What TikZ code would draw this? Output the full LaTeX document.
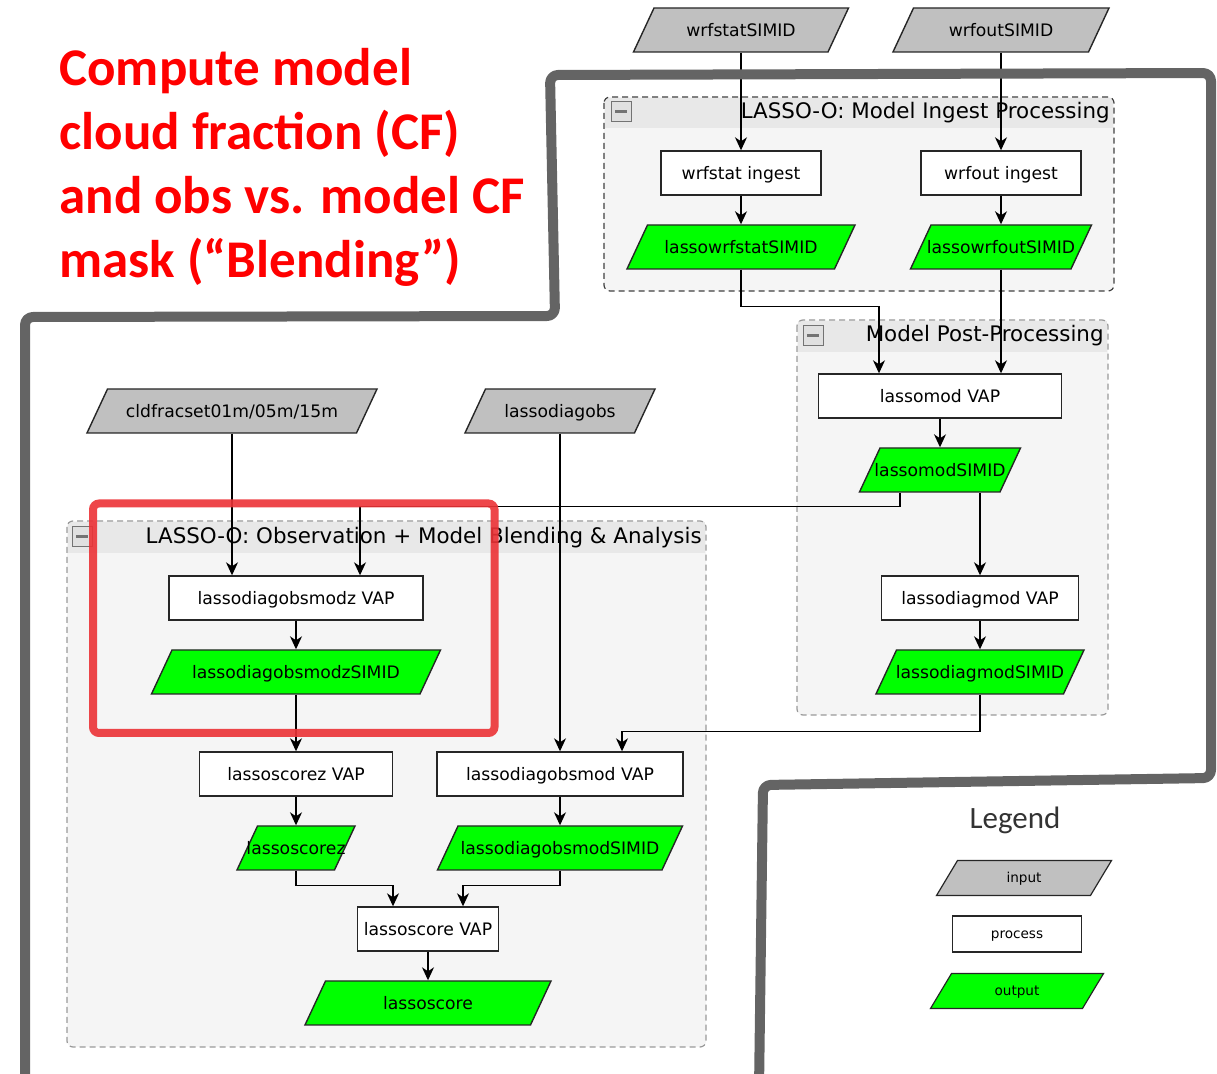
\documentclass[tikz,border=0pt]{standalone}
\usepackage{fontspec}
\setmainfont{DejaVu Sans}
\newfontfamily\calfont{Carlito}
\usetikzlibrary{shapes.geometric,arrows.meta,calc}
\definecolor{framegray}{RGB}{100,100,100}
\definecolor{hilite}{RGB}{236,50,54}
\definecolor{inputgray}{RGB}{192,192,192}
\tikzset{boxtext/.style={font=\fontsize{8.6}{10}\selectfont,text height=7.2pt,text depth=0.9pt}}
\tikzset{proc/.style={boxtext,draw=black!85,line width=0.7pt,fill=white,minimum height=22pt,inner sep=0pt}}
\tikzset{slant/.style={boxtext,trapezium,trapezium left angle=65,trapezium right angle=115,trapezium stretches body,draw=black!85,line width=0.7pt,inner xsep=0pt,inner ysep=6.95pt,execute at begin node={\hbox to 0pt\bgroup\hss},execute at end node={\hss\egroup}}}
\tikzset{inp/.style={slant,fill=inputgray}}
\tikzset{outp/.style={slant,fill=green}}
\tikzset{legtext/.style={font=\fontsize{6.8}{8}\selectfont,text height=5.6pt,text depth=0.8pt,line width=0.6pt}}
\tikzset{legslant/.style={legtext,inner ysep=5.55pt,trapezium left angle=59,trapezium right angle=121}}
\tikzset{flow/.style={line width=0.65pt,-{Stealth[length=6.5pt,width=6pt,inset=2pt]}}}
\tikzset{grptitle/.style={font=\fontsize{10.7}{12}\selectfont,inner sep=0pt,anchor=east}}
\tikzset{tog/.style={draw=black!55,fill=black!12,minimum size=10pt,inner sep=0pt,line width=0.5pt,path picture={\draw[line width=1.5pt] ([xshift=-2.8pt]path picture bounding box.center) -- ([xshift=2.8pt]path picture bounding box.center);}}}

\begin{document}
\begin{tikzpicture}[x=0.5pt,y=-0.5pt,node distance=37pt]
\useasboundingbox (0,0) rectangle (1217,1074);
\clip (0,0) rectangle (1217,1074);

\node[anchor=north west,align=left,inner sep=0pt,text=red,font=\calfont\bfseries\fontsize{26.5}{32}\selectfont] (head) at (59,48) {Compute model\\cloud fraction (CF)\\and obs vs. model CF\\mask (“Blending”)};

\fill[black!4,rounded corners=3pt] (604,97) rectangle (1114,291);
\fill[black!9] (605,98) rectangle (1113,128);
\draw[black!75,line width=0.6pt,dash pattern=on 3pt off 2pt,rounded corners=3pt] (604,97) rectangle (1114,291);
\node[tog] (tog1) at (621,112) {};
\node[grptitle] (grp1) at (1110,113) {LASSO-O: Model Ingest Processing};

\fill[black!4,rounded corners=3pt] (797,320) rectangle (1108,715);
\fill[black!9] (798,321) rectangle (1107,352);
\draw[black!40,line width=0.6pt,dash pattern=on 3pt off 2pt,rounded corners=3pt] (797,320) rectangle (1108,715);
\node[tog] (tog2) at (813,336) {};
\node[grptitle] (grp2) at (1104,336) {Model Post-Processing};

\fill[black!4,rounded corners=3pt] (67,521) rectangle (706,1047);
\fill[black!9] (68,522) rectangle (705,553);
\draw[black!40,line width=0.6pt,dash pattern=on 3pt off 2pt,rounded corners=3pt] (67,521) rectangle (706,1047);
\node[tog] (tog3) at (82,537) {};
\node[grptitle] (grp3) at (702,538) {LASSO-O: Observation + Model Blending \& Analysis};

\node[inp,minimum width=107.5pt] (wstat) at (741,30) {wrfstatSIMID};
\node[inp,minimum width=108pt] (wout) at (1001,30) {wrfoutSIMID};
\node[proc,minimum width=80pt] (wsting) at (741,173) {wrfstat ingest};
\node[proc,minimum width=80pt] (wouting) at (1001,173) {wrfout ingest};
\node[outp,minimum width=114pt] (lwstat) [below of=wsting] {lassowrfstatSIMID};
\node[outp,minimum width=90.5pt] (lwout) [below of=wouting] {lassowrfoutSIMID};
\node[proc,minimum width=121.5pt] (lmodvap) at (940,396) {lassomod VAP};
\node[outp,minimum width=80.5pt] (lmod) [below of=lmodvap] {lassomodSIMID};
\node[proc,minimum width=98.5pt] (ldmodvap) at (980,598) {lassodiagmod VAP};
\node[outp,minimum width=104pt] (ldmod) [below of=ldmodvap] {lassodiagmodSIMID};
\node[inp,minimum width=145pt] (cldfrac) at (232,411) {cldfracset01m/05m/15m};
\node[inp,minimum width=95pt] (ldobs) at (560,411) {lassodiagobs};
\node[proc,minimum width=127pt] (ldozvap) at (296,598) {lassodiagobsmodz VAP};
\node[outp,minimum width=144.5pt] (ldoz) [below of=ldozvap] {lassodiagobsmodzSIMID};
\node[proc,minimum width=96.5pt] (lszvap) at (296,774) {lassoscorez VAP};
\node[outp,minimum width=59pt] (lsz) [below of=lszvap] {lassoscorez};
\node[proc,minimum width=123pt] (ldomvap) at (560,774) {lassodiagobsmod VAP};
\node[outp,minimum width=122.5pt] (ldom) [below of=ldomvap] {lassodiagobsmodSIMID};
\node[proc,minimum width=70.5pt] (lsvap) at (428,929) {lassoscore VAP};
\node[outp,minimum width=123pt] (ls) [below of=lsvap] {lassoscore};

\draw[flow] (wstat.south) -- (wsting.north);
\draw[flow] (wout.south) -- (wouting.north);
\draw[flow] (wsting) -- (lwstat);
\draw[flow] (wouting) -- (lwout);
\draw[flow] (lwstat.south) -- ++(0,37) -| ([xshift=-30.5pt]lmodvap.north);
\draw[flow] (lwout.south) -- (lwout.south |- lmodvap.north);
\draw[flow] (lmodvap) -- (lmod);
\draw[flow] ([xshift=20pt]lmod.south) -- (ldmodvap.north);
\draw[flow] ([xshift=-20pt]lmod.south) -- ++(0,14) -| ([xshift=32pt]ldozvap.north);
\draw[flow] (ldmodvap) -- (ldmod);
\draw[flow] (ldmod.south) -- ++(0,37) -| ([xshift=31pt]ldomvap.north);
\draw[flow] (cldfrac.south) -- (cldfrac.south |- ldozvap.north);
\draw[flow] (ldobs.south) -- (ldomvap.north);
\draw[flow] (ldozvap) -- (ldoz);
\draw[flow] (ldoz) -- (lszvap);
\draw[flow] (lszvap) -- (lsz);
\draw[flow] (ldomvap) -- (ldom);
\draw[flow] (lsz.south) -- ++(0,15) -| ([xshift=-17.5pt]lsvap.north);
\draw[flow] (ldom.south) -- ++(0,15) -| ([xshift=17.5pt]lsvap.north);
\draw[flow] (lsvap) -- (ls);

\node[font=\calfont\fontsize{15.5}{18}\selectfont,text=black!80] (leg) at (1015,820) {Legend};
\node[inp,legslant,minimum width=87.5pt] (legin) at (1024,878) {input};
\node[proc,legtext,minimum width=64.5pt,minimum height=18pt] (legproc) at (1017,934) {process};
\node[outp,legslant,minimum width=86.5pt] (legout) at (1017,991) {output};

\draw[framegray,line width=5pt,rounded corners=4pt,line join=round] (25,1090) -- (25,317) -- (555,316) -- (550,75) -- (1211,73) -- (1211,778) -- (763,785) -- (759,1090);
\draw[hilite,line width=4pt,rounded corners=3pt,draw opacity=0.9] (93,503.5) rectangle (494.5,733);
\end{tikzpicture}
\end{document}
